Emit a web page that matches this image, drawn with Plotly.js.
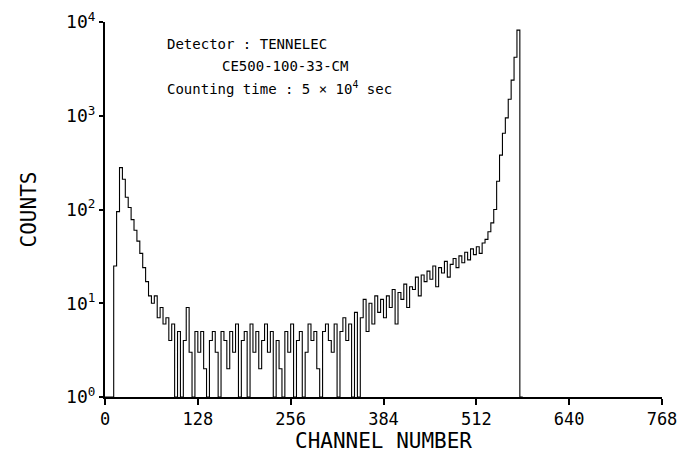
<!DOCTYPE html>
<html>
<head>
<meta charset="utf-8">
<script src="https://cdn.plot.ly/plotly-3.0.1.min.js"></script>
<style>html,body{margin:0;padding:0;background:#fff;}#chart{width:684px;height:463px;}</style>
</head>
<body>
<div id="chart"></div>
<script>
// channel number (left edge of each 4-channel bin)
const channels = [
  0,4,8,12,16,20,24,28,32,36,40,44,48,52,56,60,64,68,72,76,80,84,88,92,96,100,104,108,112,116,120,124,
  128,132,136,140,144,148,152,156,160,164,168,172,176,180,184,188,192,196,200,204,208,212,216,220,224,228,232,236,240,244,248,252,
  256,260,264,268,272,276,280,284,288,292,296,300,304,308,312,316,320,324,328,332,336,340,344,348,352,356,360,364,368,372,376,380,
  384,388,392,396,400,404,408,412,416,420,424,428,432,436,440,444,448,452,456,460,464,468,472,476,480,484,488,492,496,500,504,508,
  512,516,520,524,528,532,536,540,544,548,552,556,560,564,568,572,576
];
// counts per bin
const counts = [
  1,1,1,25,95,280,210,135,105,78,60,46,34,24,17,12,10,12,7,9,6,7,4,6,1,5,1,4,9,3,1,5,
  3,5,2,1,4,5,3,1,5,4,2,5,3,6,1,4,5,1,6,3,5,2,4,6,3,5,1,4,2,1,5,3,
  6,1,4,5,1,3,6,4,5,2,1,5,6,4,3,6,1,5,7,4,6,1,8,1,7,11,5,10,6,12,8,11,
  7,12,9,14,6,13,11,16,9,15,14,19,12,20,17,22,18,25,15,24,21,28,19,26,30,24,32,27,35,29,38,33,
  40,34,44,48,58,72,100,200,380,650,950,1500,2400,4200,8200,1,1
];
const xTicks = [0,128,256,384,512,640,768];
const yTickVals = [1,10,100,1000,10000];
const yTickText = ['10<sup>0</sup>','10<sup>1</sup>','10<sup>2</sup>','10<sup>3</sup>','10<sup>4</sup>'];
const noteLines = ['Detector : TENNELEC','CE500-100-33-CM','Counting time : 5 \u00d7 10<sup>4</sup> sec'];

const mono = 'DejaVu Sans Mono, monospace';
const trace = {
  x: channels, y: counts, type: 'scatter', mode: 'lines',
  line: {color: '#000', width: 1.1, shape: 'hv'}, hoverinfo: 'skip'
};
const layout = {
  width: 684, height: 463,
  margin: {l: 105, r: 22, t: 22, b: 66},
  paper_bgcolor: '#fff', plot_bgcolor: '#fff',
  showlegend: false,
  font: {family: mono, color: '#000'},
  xaxis: {
    range: [0, 768], tickvals: xTicks, ticktext: xTicks.map(String),
    showgrid: false, zeroline: false, showline: true, linecolor: '#000', linewidth: 2,
    ticks: 'outside', ticklen: 6, tickwidth: 2, tickcolor: '#000',
    tickfont: {family: mono, size: 17, color: '#000'},
    title: {text: 'CHANNEL NUMBER', font: {family: mono, size: 21, color: '#000'}, standoff: 2}
  },
  yaxis: {
    type: 'log', range: [0, 4], tickvals: yTickVals, ticktext: yTickText,
    showgrid: false, zeroline: false, showline: true, linecolor: '#000', linewidth: 2,
    ticks: 'outside', ticklen: 4, tickwidth: 2, tickcolor: '#000',
    tickfont: {family: mono, size: 18, color: '#000'},
    title: {text: 'COUNTS', font: {family: mono, size: 21, color: '#000'}, standoff: 24}
  },
  annotations: [
    {text: noteLines[0], xref: 'paper', yref: 'paper', x: 0.108, y: 0.941, xanchor: 'left', yanchor: 'middle', showarrow: false, font: {family: mono, size: 14, color: '#000'}},
    {text: noteLines[1], xref: 'paper', yref: 'paper', x: 0.207, y: 0.883, xanchor: 'left', yanchor: 'middle', showarrow: false, font: {family: mono, size: 14, color: '#000'}},
    {text: noteLines[2], xref: 'paper', yref: 'paper', x: 0.108, y: 0.824, xanchor: 'left', yanchor: 'middle', showarrow: false, font: {family: mono, size: 14, color: '#000'}}
  ]
};
Plotly.newPlot('chart', [trace], layout, {staticPlot: true, displayModeBar: false});
</script>
</body>
</html>
